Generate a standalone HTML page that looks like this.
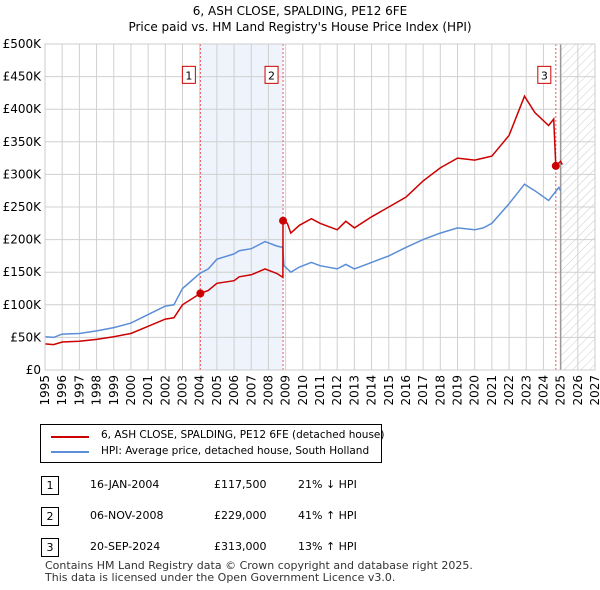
<!DOCTYPE html>
<html><head><meta charset="utf-8"><style>
body{margin:0;width:600px;height:590px;background:#fff;font-family:"DejaVu Sans","Liberation Sans",sans-serif;overflow:hidden;position:relative}
.t{position:absolute;font-size:12px;color:#000;white-space:nowrap}
</style></head><body>
<div class="t" style="left:0;width:600px;top:3px;text-align:center;font-size:12px;line-height:16px">6, ASH CLOSE, SPALDING, PE12 6FE<br>Price paid vs. HM Land Registry's House Price Index (HPI)</div>
<svg id="ch" width="600" height="420" style="position:absolute;left:0;top:0" font-family="DejaVu Sans, Liberation Sans, sans-serif">
<defs><pattern id="hatch" width="6" height="6" patternUnits="userSpaceOnUse" patternTransform="rotate(45)"><line x1="0" y1="0" x2="0" y2="6" stroke="#ccc" stroke-width="1"/></pattern></defs>
<g id="g"></g></svg>
<div style="position:absolute;left:40px;top:424px;width:340px;height:37px;border:1px solid #000;font-size:10.5px;white-space:nowrap">
<div style="position:absolute;left:10px;top:11px;width:38px;height:2px;background:#cc0000"></div><div style="position:absolute;left:60px;top:4px">6, ASH CLOSE, SPALDING, PE12 6FE (detached house)</div>
<div style="position:absolute;left:10px;top:26px;width:38px;height:2px;background:#5b8ed6"></div><div style="position:absolute;left:60px;top:20px">HPI: Average price, detached house, South Holland</div>
</div>
<div id="tbl"></div>
<div class="t" style="left:45px;top:560px;font-size:11px;line-height:12px;color:#333">Contains HM Land Registry data © Crown copyright and database right 2025.<br>This data is licensed under the Open Government Licence v3.0.</div>
<script>
const hpiYears=[1995,1995.5,1996,1997,1998,1999,2000,2001,2002,2002.5,2003,2004,2004.5,2005,2006,2006.3,2007,2007.8,2008.5,2008.84,2008.9,2009.3,2009.8,2010.5,2011,2012,2012.5,2013,2014,2015,2016,2017,2018,2019,2020,2020.5,2021,2022,2022.9,2023.5,2024.3,2024.9,2025];
const hpiValues=[51,50,55,56,60,65,72,85,98,100,125,148,155,170,178,183,186,197,190,188,160,150,158,165,160,155,162,155,165,175,188,200,210,218,215,218,225,255,285,275,260,280,275];
const ppYears=[1995,1995.5,1996,1997,1998,1999,2000,2001,2002,2002.5,2003,2004.04,2004.5,2005,2006,2006.3,2007,2007.8,2008.5,2008.84,2008.85,2009.1,2009.3,2009.8,2010.5,2011,2012,2012.5,2013,2014,2015,2016,2017,2018,2019,2020,2020.5,2021,2022,2022.9,2023.5,2024.3,2024.6,2024.72,2025,2025.1];
const ppValues=[40,39,43,44,47,51,56,67,78,80,100,117.5,122,133,137,143,146,155,148,142,229,225,210,222,232,225,215,228,218,235,250,265,290,310,325,322,325,328,360,420,395,375,385,313,320,315];
const saleLabels=["1","2","3"];
const saleYears=[2004.04,2008.85,2024.72];
const saleValues=[117.5,229,313];
const yTicks=[0,50,100,150,200,250,300,350,400,450,500];
const yTickLabels=["£0","£50K","£100K","£150K","£200K","£250K","£300K","£350K","£400K","£450K","£500K"];
const xTicks=[];for(let y=1995;y<=2027;y++)xTicks.push(y);
const X0=45,X1=595,Y0=370,Y1=44;
const xs=v=>X0+(v-1995)/(2027-1995)*(X1-X0);
const ys=v=>Y0-v/500*(Y0-Y1);
const g=document.getElementById('g');const NS='http://www.w3.org/2000/svg';
function mk(t,a,txt){const e=document.createElementNS(NS,t);for(const k in a)e.setAttribute(k,a[k]);if(txt!=null)e.textContent=txt;g.appendChild(e);return e;}
let e;
e=mk('rect',{x:xs(saleYears[0]),y:Y1,width:xs(saleYears[1])-xs(saleYears[0]),height:Y0-Y1,fill:'#eef3fc'});


e=mk('rect',{x:xs(2025),y:Y1,width:xs(2027)-xs(2025),height:Y0-Y1,fill:'url(#hatch)'});


xTicks.forEach(v=>{e=mk('line',{x1:xs(v),x2:xs(v),y1:Y1,y2:Y0,stroke:'#d0d0d0'});


e=mk('text',{transform:`translate(${xs(v)+4},${Y0+5}) rotate(-90)`,'text-anchor':'end','font-size':12},String(v));

});
yTicks.forEach((v,i)=>{e=mk('line',{x1:X0,x2:X1,y1:ys(v),y2:ys(v),stroke:'#d0d0d0'});


e=mk('text',{x:X0-4,y:ys(v)+4,'text-anchor':'end','font-size':12},yTickLabels[i]);

});
e=mk('line',{x1:xs(2025),x2:xs(2025),y1:Y1,y2:Y0,stroke:'#999','stroke-width':1.5});


saleYears.forEach((v,i)=>{e=mk('line',{x1:xs(v),x2:xs(v),y1:Y1,y2:Y0,stroke:'#ee5555','stroke-dasharray':'2,2'});

});
const pts=(a,b)=>a.map((v,i)=>xs(v).toFixed(1)+','+ys(b[i]).toFixed(1)).join(' ');
e=mk('polyline',{points:pts(hpiYears,hpiValues),fill:'none',stroke:'#5b8ed6','stroke-width':1.5});


e=mk('polyline',{points:pts(ppYears,ppValues),fill:'none',stroke:'#cc0000','stroke-width':1.5});


saleYears.forEach((v,i)=>{e=mk('circle',{cx:xs(v),cy:ys(saleValues[i]),r:4,fill:'#cc0000'});


e=mk('rect',{x:xs(v)-18,y:ys(455)-7,width:13,height:17,fill:'#fff',stroke:'#cc0000'});


e=mk('text',{x:xs(v)-11.5,y:ys(455)+6,'text-anchor':'middle','font-size':11},saleLabels[i]);

});
e=mk('rect',{x:X0,y:Y1,width:X1-X0,height:Y0-Y1,fill:'none',stroke:'#ccc'});
const rows=[["1","16-JAN-2004","£117,500","21% ↓ HPI"],["2","06-NOV-2008","£229,000","41% ↑ HPI"],["3","20-SEP-2024","£313,000","13% ↑ HPI"]];
const tb=document.getElementById('tbl');
rows.forEach((r,i)=>{const y=476+i*31;const d=document.createElement('div');


d.innerHTML=`<div style="position:absolute;left:41px;top:${y}px;width:16px;height:17px;border:1px solid #000;font-size:11px;text-align:center;line-height:17px">${r[0]}</div><div class="t" style="left:90px;top:${y+2}px;font-size:11px">${r[1]}</div><div class="t" style="left:214px;top:${y+2}px;font-size:11px">${r[2]}</div><div class="t" style="left:298px;top:${y+2}px;font-size:11px">${r[3]}</div>`;tb.appendChild(d);});
</script>
</body></html>
